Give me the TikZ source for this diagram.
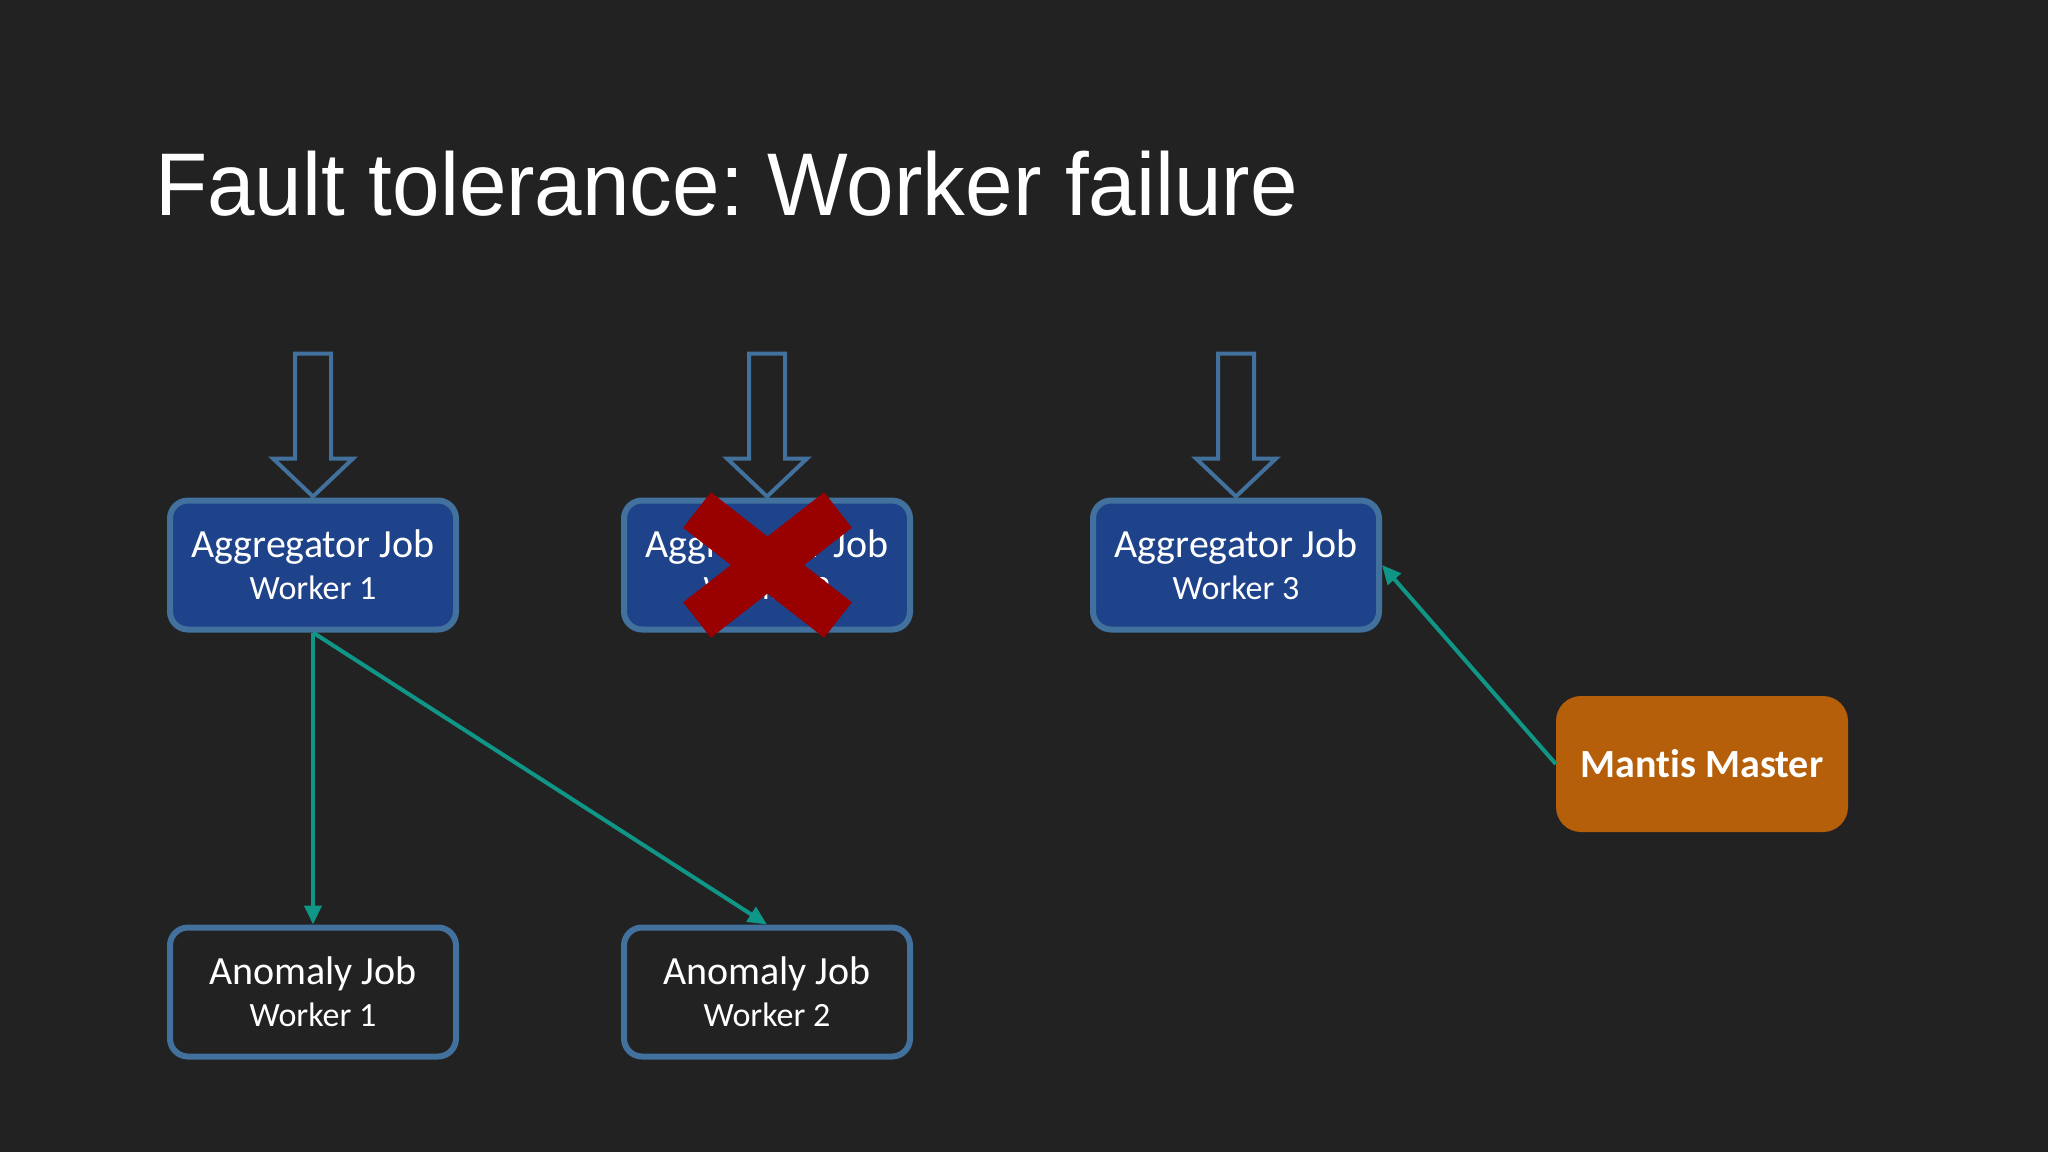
\documentclass[tikz,border=0pt]{standalone}
\usepackage{fontspec}
\setmainfont{Carlito}[Ligatures=NoCommon]
\newfontfamily\titlefont[FakeStretch=0.96]{Liberation Sans}
\usepackage{xcolor}
\usetikzlibrary{positioning,arrows.meta}
\definecolor{bg}{RGB}{34,34,35}
\definecolor{aggfill}{RGB}{30,67,138}
\definecolor{jobedge}{RGB}{65,113,156}
\definecolor{flowcol}{RGB}{16,150,135}
\definecolor{mastercol}{RGB}{181,95,10}
\definecolor{crosscol}{RGB}{153,0,0}
\newcommand{\workerline}[1]{{\fontsize{34}{42}\selectfont #1}}

\begin{document}
\frenchspacing
\begin{tikzpicture}[x=1pt,y=-1pt,
  job/.style={draw=jobedge,line width=6pt,rounded corners=18pt,minimum width=286pt,minimum height=129pt,align=center,text=white,font=\fontsize{40}{42}\selectfont},
  aggbox/.style={job,fill=aggfill},
  anombox/.style={job,fill=bg},
  inarrow/.style={draw=jobedge,line width=4pt,fill=bg,line join=miter},
  flow/.style={draw=flowcol,line width=4pt,-{Triangle[length=19pt,width=17pt]}},
  crossline/.style={draw=crosscol,line width=45pt},
  master/.style={fill=mastercol,rounded corners=25pt,minimum width=292pt,minimum height=136pt,text=white,font=\bfseries\fontsize{40}{42}\selectfont}]
% background
\useasboundingbox[fill=bg] (0,0) rectangle (2048,1152);
% Title
\node[anchor=base west,inner sep=0,text=white,font=\titlefont\fontsize{89}{100}\selectfont] (title) at (155,215) {Fault tolerance: Worker failure};
% Aggregator jobs
\node[aggbox] (agg1) at (313,565) {Aggregator Job\\\workerline{Worker 1}};
\node[aggbox] (agg2) at (767,565) {Aggregator Job\\\workerline{Worker 2}};
\node[aggbox] (agg3) at (1236,565) {Aggregator Job\\\workerline{Worker 3}};
% Anomaly jobs
\node[anombox,below = 292pt of agg1] (anom1) {Anomaly Job\\\workerline{Worker 1}};
\node[anombox,below = 292pt of agg2] (anom2) {Anomaly Job\\\workerline{Worker 2}};
% Master
\node[master] (master) at (1702,764) {Mantis Master};
% Input arrows
\foreach \n in {agg1,agg2,agg3}
  \draw[inarrow] ([yshift=1pt]\n.north) -- ++(-40,-38) -- ++(22,0) -- ++(0,-105) -- ++(36,0) -- ++(0,105) -- ++(22,0) -- cycle;
% Flows
\draw[flow] (agg1.south) -- (anom1.north);
\draw[flow] (agg1.south) -- (anom2.north);
\draw[flow] (master.west) -- (agg3.east);
% Failed worker
\draw[crossline] ([xshift=-70pt,yshift=55pt]agg2.center) -- ([xshift=71pt,yshift=-55pt]agg2.center);
\draw[crossline] ([xshift=71pt,yshift=55pt]agg2.center) -- ([xshift=-70pt,yshift=-55pt]agg2.center);
\end{tikzpicture}
\end{document}
